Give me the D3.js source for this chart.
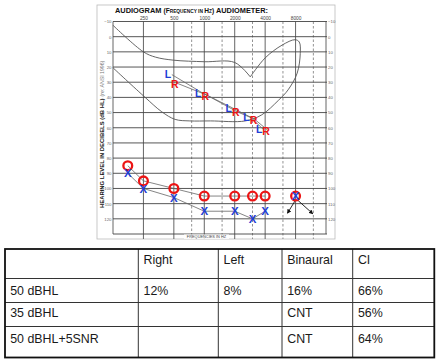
<!DOCTYPE html>
<html><head><meta charset="utf-8">
<script src="https://cdn.jsdelivr.net/npm/d3@7"></script>
<style>html,body{margin:0;padding:0;background:#fff;} svg{display:block;font-family:"Liberation Sans",Arial,sans-serif;}</style>
</head><body>
<svg id="c" width="442" height="362"></svg>
<script>
// ---------- data ----------
const freqLabels = [250, 500, 1000, 2000, 4000, 8000];
const solidFreqs = [125, 250, 500, 1000, 2000, 4000, 8000, 16000];
const dashedFreqs = [750, 1500, 3000, 6000, 12000];
const dbTicks = [-10, 0, 10, 20, 30, 40, 50, 60, 70, 80, 90, 100, 110, 120];

// unaided thresholds (O = right ear, X = left ear)
const unaidedFreqs = [175, 250, 500, 1000, 2000, 3000, 4000, 8000];
const rightUnaided = [85, 95, 100, 105, 105, 105, 105, 105];
const leftUnaided  = [90, 100, 106, 115, 115, 120, 115, 105];
const noResponse   = [false, false, false, false, false, false, false, true];

// aided thresholds (L / R)
const aidedFreqs = [500, 1000, 2000, 3000, 4000];
const aidedLeft  = [25, 37, 47, 53, 61];
const aidedRight = [31, 39, 50, 55, 62];

// speech banana outline [Hz, dB HL]
const bananaTop = [[125, -7.5], [250, 10], [330, 13.5], [500, 15.5], [1000, 16.5], [2000, 17], [2850, 26.5]];
const bananaRest = [[2850, 26.5], [4000, 14], [5900, 5.5], [7900, 2], [8700, 3.5], [8900, 11], [8300, 24], [6750, 35],
  [5400, 42], [3700, 51.5], [2550, 55.5], [1150, 55.5], [720, 55.5], [515, 54.5], [380, 49.5], [260, 40], [125, 20.5]];

// table
const tableHeader = ["", "Right", "Left", "Binaural", "CI"];
const tableRows = ["50 dBHL", "35 dBHL", "50 dBHL+5SNR"];
const tableValues = [
  ["12%", "8%", "16%", "66%"],
  ["", "", "CNT", "56%"],
  ["", "", "CNT", "64%"]
];

// ---------- drawing ----------
const svg = d3.select("#c");
const x = d3.scaleLog().base(2).domain([125, 16000]).range([113, 326]);
const y = d3.scaleLinear().domain([-10, 130]).range([21.5, 234]);

// outer frame
svg.append("rect").attr("x", 97).attr("y", 5).attr("width", 238).attr("height", 234)
  .attr("fill", "none").attr("stroke", "#bbb").attr("stroke-width", 0.8);

// title
const title = svg.append("text").attr("x", 115).attr("y", 12.7).attr("fill", "#111")
  .attr("font-weight", "bold").attr("font-size", 7.4);
title.append("tspan").text("AUDIOGRAM ");
title.append("tspan").attr("font-size", 6.6).text("(F");
title.append("tspan").attr("font-size", 4.8).text("REQUENCY IN ");
title.append("tspan").attr("font-size", 6.6).text("H");
title.append("tspan").attr("font-size", 4.8).text("Z");
title.append("tspan").attr("font-size", 6.6).text(")");
title.append("tspan").text(" AUDIOMETER:");

// grid
const grid = svg.append("g");
grid.selectAll(".vd").data(dashedFreqs).join("line")
  .attr("x1", d => x(d)).attr("x2", d => x(d)).attr("y1", y(-10)).attr("y2", 239)
  .attr("stroke", "#777").attr("stroke-width", 0.8).attr("stroke-dasharray", "2.5,2");
grid.selectAll(".vs").data(solidFreqs).join("line")
  .attr("x1", d => x(d)).attr("x2", d => x(d)).attr("y1", y(-10)).attr("y2", d => (d === 125 || d === 16000) ? y(130) : 239)
  .attr("stroke", "#555").attr("stroke-width", 0.9);
grid.selectAll(".h").data(dbTicks.concat([130])).join("line")
  .attr("x1", x(125)).attr("x2", x(16000) + 1).attr("y1", d => y(d)).attr("y2", d => y(d))
  .attr("stroke", "#444").attr("stroke-width", 0.9);

// axes labels
const axL = svg.append("g").attr("transform", `translate(${x(125) - 0.5},0)`)
  .call(d3.axisLeft(y).tickValues(dbTicks).tickSize(0).tickPadding(1));
const axR = svg.append("g").attr("transform", `translate(${x(16000) + 1.5},0)`)
  .call(d3.axisRight(y).tickValues(dbTicks).tickSize(0).tickPadding(0.5));
const axT = svg.append("g").attr("transform", `translate(0,${y(-10) - 1.5})`)
  .call(d3.axisTop(x).tickValues(freqLabels).tickFormat(d3.format("d")).tickSize(0).tickPadding(0.5));
[axL, axR].forEach(a => {
  a.select(".domain").remove();
  a.selectAll("text").attr("font-size", 4.3).attr("fill", "#666").attr("font-family", "Liberation Sans, Arial");
});
axT.select(".domain").remove();
axT.selectAll("text").attr("font-size", 4.8).attr("fill", "#444").attr("font-family", "Liberation Sans, Arial");

// bottom small label
svg.append("rect").attr("x", 184).attr("y", 234.5).attr("width", 45).attr("height", 4.3).attr("fill", "#fff");
svg.append("text").attr("x", 206.5).attr("y", 238.2).attr("text-anchor", "middle")
  .attr("font-size", 3.9).attr("fill", "#444").text("FREQUENCIES IN HZ");

// y title
const yt = svg.append("text").attr("transform", "translate(104,208) rotate(-90)").attr("fill", "#111");
yt.append("tspan").attr("font-weight", "bold").attr("font-size", 5.9).text("HEARING LEVEL IN DECIBELS (dB HL)");
yt.append("tspan").attr("font-size", 5.2).attr("fill", "#777").attr("dx", 2).text("(re: ANSI 1996)");

// banana
const bLine = d3.line().x(d => x(d[0])).y(d => y(d[1])).curve(d3.curveCatmullRom.alpha(0.5));
[bananaTop, bananaRest].forEach(pts => {
  svg.append("path").attr("d", bLine(pts)).attr("fill", "none").attr("stroke", "#555").attr("stroke-width", 0.9);
});

// connecting lines
const lin = d3.line();
const grey = "#666";
function connect(freqs, vals, dx, dy, mask) {
  const pts = freqs.map((f, i) => [x(f) + dx, y(vals[i]) + dy]).filter((p, i) => !mask || !mask[i]);
  svg.append("path").attr("d", lin(pts)).attr("fill", "none").attr("stroke", grey).attr("stroke-width", 0.8);
}
connect(aidedFreqs, aidedLeft, -2, 0);
connect(aidedFreqs, aidedRight, 2, -1);
connect(unaidedFreqs, rightUnaided, 0, 0, noResponse);
connect(unaidedFreqs, leftUnaided, 0, 0, noResponse);

// arrows for no response
svg.append("defs").append("marker").attr("id", "ah").attr("viewBox", "0 0 10 10")
  .attr("refX", 8).attr("refY", 5).attr("markerWidth", 5).attr("markerHeight", 5).attr("orient", "auto")
  .append("path").attr("d", "M0,0L10,5L0,10z").attr("fill", "#111");
unaidedFreqs.forEach((f, i) => {
  if (!noResponse[i]) return;
  const px = x(f), pyR = y(rightUnaided[i]), pyL = y(leftUnaided[i]);
  svg.append("line").attr("x1", px).attr("y1", pyR + 4).attr("x2", px - 8).attr("y2", pyR + 17)
    .attr("stroke", "#111").attr("stroke-width", 0.9).attr("marker-end", "url(#ah)");
  svg.append("line").attr("x1", px + 2).attr("y1", pyL + 4).attr("x2", px + 17).attr("y2", pyL + 17.5)
    .attr("stroke", "#111").attr("stroke-width", 0.9).attr("marker-end", "url(#ah)");
});

// aided letters
const blue = "#1f3fd6", red = "#ec1515";
svg.selectAll(".al").data(aidedFreqs).join("text")
  .attr("x", (d, i) => x(d) - 6).attr("y", (d, i) => y(aidedLeft[i]))
  .attr("dy", "0.36em").attr("text-anchor", "middle").attr("font-weight", "bold").attr("font-size", 10.5)
  .attr("fill", blue).text("L");
svg.selectAll(".ar").data(aidedFreqs).join("text")
  .attr("x", (d, i) => x(d) + 1).attr("y", (d, i) => y(aidedRight[i]))
  .attr("dy", "0.36em").attr("text-anchor", "middle").attr("font-weight", "bold").attr("font-size", 10.5)
  .attr("fill", red).text("R");

// unaided symbols
svg.selectAll(".o").data(unaidedFreqs).join("circle")
  .attr("cx", d => x(d)).attr("cy", (d, i) => y(rightUnaided[i])).attr("r", 4.4)
  .attr("fill", "none").attr("stroke", red).attr("stroke-width", 2.3);
svg.selectAll(".x").data(unaidedFreqs).join("text")
  .attr("x", d => x(d)).attr("y", (d, i) => y(leftUnaided[i]))
  .attr("dy", "0.36em").attr("text-anchor", "middle").attr("font-weight", "bold").attr("font-size", 11.5)
  .attr("fill", blue).text("X");

// ---------- table ----------
const colX = [5, 138.3, 218.3, 282, 352.7, 434.3];
const rowY = [249, 278.5, 302.5, 326.5, 357.5];
const tb = svg.append("g");
colX.slice(1, -1).forEach(cx => tb.append("line").attr("x1", cx).attr("x2", cx).attr("y1", rowY[0]).attr("y2", rowY[4])
  .attr("stroke", "#333").attr("stroke-width", 1));
rowY.slice(1, -1).forEach(ry => tb.append("line").attr("x1", colX[0]).attr("x2", colX[5]).attr("y1", ry).attr("y2", ry)
  .attr("stroke", "#333").attr("stroke-width", 1));
tb.append("rect").attr("x", colX[0]).attr("y", rowY[0]).attr("width", colX[5] - colX[0]).attr("height", rowY[4] - rowY[0])
  .attr("fill", "none").attr("stroke", "#111").attr("stroke-width", 1.8);
const cells = [];
tableHeader.forEach((t, c) => cells.push({ r: 0, c, t }));
tableRows.forEach((t, r) => {
  cells.push({ r: r + 1, c: 0, t });
  tableValues[r].forEach((v, c) => cells.push({ r: r + 1, c: c + 1, t: v }));
});
const baseOff = [15.3, 16.5, 14.5, 16.8];
tb.selectAll("text").data(cells.filter(d => d.t)).join("text")
  .attr("x", d => colX[d.c] + 5.2).attr("y", d => rowY[d.r] + baseOff[d.r])
  .attr("font-size", 12.4).attr("fill", "#1a1a1a").text(d => d.t);
</script>
</body></html>
